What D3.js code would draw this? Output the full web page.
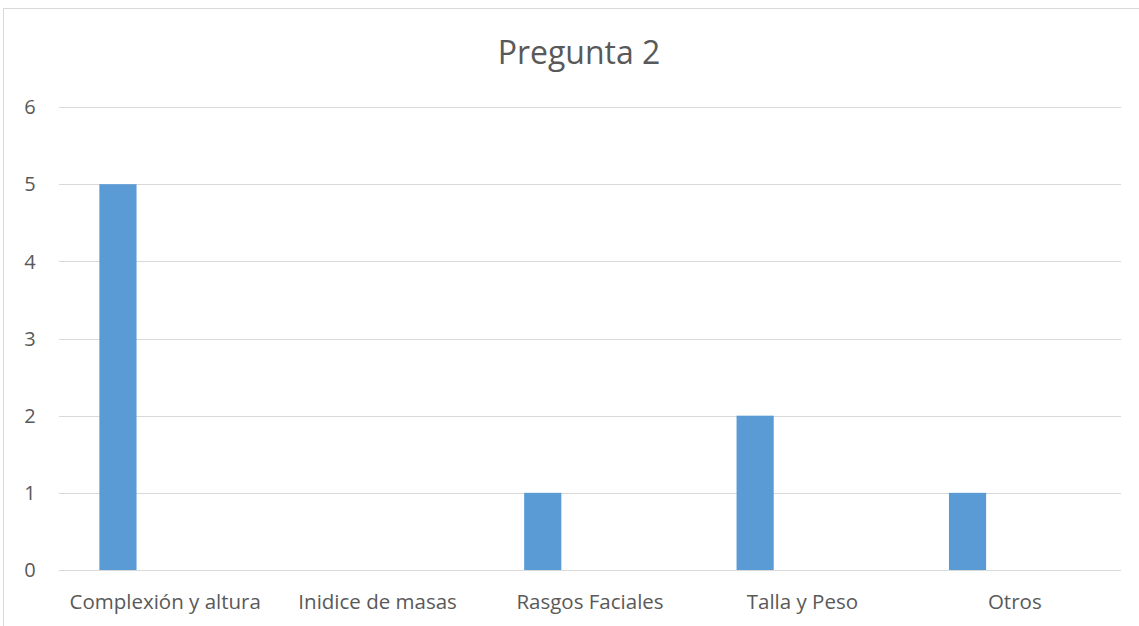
<!DOCTYPE html>
<html>
<head>
<meta charset="utf-8">
<script src="https://cdn.jsdelivr.net/npm/d3@7"></script>
<style>
  body { margin: 0; background: #fff; }
  svg { display: block; }
  text { font-family: "Open Sans", "Liberation Sans", sans-serif; fill: #595959; }
</style>
</head>
<body>
<svg id="chart" width="1139" height="626"></svg>
<script>
// data
var categories = ["Complexión y altura", "Inidice de masas", "Rasgos Faciales", "Talla y Peso", "Otros"];
var values = [5, 0, 1, 2, 1];
var yTicks = [0, 1, 2, 3, 4, 5, 6];
var title = "Pregunta 2";

var svg = d3.select("#chart");

// chart frame
svg.append("rect")
  .attr("x", 3.5).attr("y", 8.5)
  .attr("width", 1160).attr("height", 640)
  .attr("fill", "#fff")
  .attr("stroke", "#d9d9d9");

// plot area (window.top is taken, so don't call it top)
var plotLeft = 59, plotRight = 1121, plotTop = 107, plotBottom = 570;

var x = d3.scaleBand()
  .domain(categories)
  .range([plotLeft, plotRight]);

var y = d3.scaleLinear()
  .domain([0, 6])
  .range([plotBottom, plotTop]);

// gridlines
svg.append("g")
  .selectAll("line")
  .data(yTicks)
  .join("line")
    .attr("x1", plotLeft).attr("x2", plotRight)
    .attr("y1", function(d) { return Math.round(y(d)) + 0.5; })
    .attr("y2", function(d) { return Math.round(y(d)) + 0.5; })
    .attr("stroke", "#d9d9d9")
    .attr("stroke-width", 1);

// y labels
svg.append("g")
  .selectAll("text")
  .data(yTicks)
  .join("text")
    .attr("x", 30)
    .attr("y", function(d) { return y(d); })
    .attr("dy", "0.36em")
    .attr("text-anchor", "middle")
    .attr("font-size", 20)
    .text(function(d) { return d; });

// bars (sit a bit left of the band centre, like the excel original)
var bw = x.bandwidth();
svg.append("g")
  .selectAll("rect")
  .data(values)
  .join("rect")
    .attr("x", function(d, i) { return x(categories[i]) + bw * 0.19; })
    .attr("width", bw * 0.175)
    .attr("y", function(d) { return y(d); })
    .attr("height", function(d) { return y(0) - y(d); })
    .attr("fill", "#5b9bd5");

// x labels
svg.append("g")
  .selectAll("text")
  .data(categories)
  .join("text")
    .attr("x", function(d) { return x(d) + bw / 2; })
    .attr("y", 609)
    .attr("text-anchor", "middle")
    .attr("font-size", 20.5)
    .text(function(d) { return d; });

// title
svg.append("text")
  .attr("x", 579)
  .attr("y", 64)
  .attr("text-anchor", "middle")
  .attr("font-size", 32)
  .text(title);
</script>
</body>
</html>
